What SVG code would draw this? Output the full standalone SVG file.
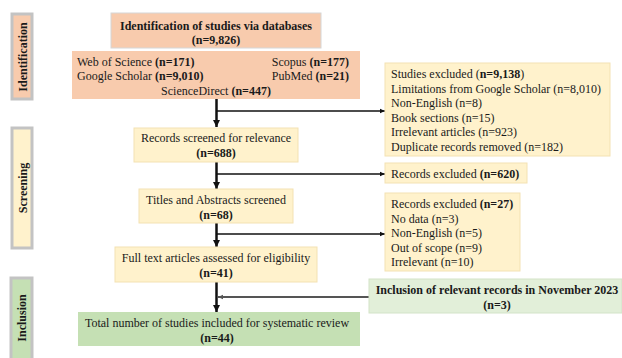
<svg xmlns="http://www.w3.org/2000/svg" width="622" height="358" viewBox="0 0 622 358">
<style>
text{font-family:"Liberation Serif","Times New Roman",serif;font-size:12px;fill:#1a1a1a}
.b{font-weight:bold}
.c{text-anchor:middle}
.peach{fill:#f8cbad}
.yel{fill:#fff2cc;stroke:#f3e2b3;stroke-width:1}
.grn{fill:#c5e0b4}
.lgrn{fill:#e2efd9;stroke:#d3e3c8;stroke-width:1}
.side{stroke:#c3c3c3;stroke-width:3}
.v{stroke:#111;stroke-width:2.5;fill:none}
.h{stroke:#111;stroke-width:1.3;fill:none}
</style>
<defs>
<marker id="av" markerUnits="userSpaceOnUse" markerWidth="8" markerHeight="8" refX="7" refY="4" orient="auto"><path d="M0,0.5 L7,4 L0,7.5 Z" fill="#111"/></marker>
<marker id="ah" markerUnits="userSpaceOnUse" markerWidth="6" markerHeight="6" refX="5" refY="3" orient="auto"><path d="M0,0.8 L5,3 L0,5.2 Z" fill="#111"/></marker>
<marker id="ag" markerUnits="userSpaceOnUse" markerWidth="6" markerHeight="6" refX="5" refY="3" orient="auto"><path d="M0,0.8 L5,3 L0,5.2 Z" fill="#555"/></marker>
</defs>

<g id="side-identification">
<rect class="side" x="12" y="14" width="20" height="85" fill="#f8cbad"/>
<text class="b c" transform="translate(26.5,57) rotate(-90)">Identification</text>
</g>
<g id="side-screening">
<rect class="side" x="12" y="128" width="20" height="120" fill="#fff2cc"/>
<text class="b c" transform="translate(26.5,188) rotate(-90)">Screening</text>
</g>
<g id="side-inclusion">
<rect class="side" x="11" y="278" width="21" height="84" fill="#c5e0b4"/>
<text class="b c" transform="translate(26,318) rotate(-90)">Inclusion</text>
</g>

<g id="connectors">
<line class="v" x1="216.5" y1="99" x2="216.5" y2="127" marker-end="url(#av)"/>
<line class="h" x1="216.5" y1="111" x2="385" y2="111" marker-end="url(#ah)"/>
<line class="v" x1="216.5" y1="162" x2="216.5" y2="189" marker-end="url(#av)"/>
<line class="h" x1="216.5" y1="174" x2="385" y2="174" marker-end="url(#ah)"/>
<line class="v" x1="216.5" y1="223" x2="216.5" y2="247" marker-end="url(#av)"/>
<line class="h" x1="216.5" y1="234" x2="385" y2="234" marker-end="url(#ah)"/>
<line class="v" x1="216.5" y1="282" x2="216.5" y2="312" marker-end="url(#av)"/>
<line x1="369" y1="297" x2="218" y2="297" stroke="#555" stroke-width="2" marker-end="url(#ag)"/>
</g>

<g id="n-identification">
<rect class="peach" x="111" y="13" width="210" height="35" stroke="#d6d6d6" stroke-width="1"/>
<text class="b c" x="216" y="30">Identification of studies via databases</text>
<text class="b c" x="216" y="44">(n=9,826)</text>
</g>
<g id="n-databases">
<rect class="peach" x="72" y="51" width="288" height="48"/>
<text x="77" y="66">Web of Science <tspan class="b">(n=171)</tspan></text>
<text x="77" y="80">Google Scholar <tspan class="b">(n=9,010)</tspan></text>
<text x="349" y="66" text-anchor="end">Scopus <tspan class="b">(n=177)</tspan></text>
<text x="349" y="80" text-anchor="end">PubMed <tspan class="b">(n=21)</tspan></text>
<text class="c" x="216" y="95">ScienceDirect <tspan class="b">(n=447)</tspan></text>
</g>
<g id="n-excluded1">
<rect class="yel" x="385" y="63" width="225" height="93"/>
<text x="391" y="78">Studies excluded (<tspan class="b">n=9,138</tspan>)</text>
<text x="391" y="92.5" textLength="210" lengthAdjust="spacingAndGlyphs">Limitations from Google Scholar (n=8,010)</text>
<text x="391" y="107">Non-English (n=8)</text>
<text x="391" y="121.5">Book sections (n=15)</text>
<text x="391" y="136">Irrelevant articles (n=923)</text>
<text x="391" y="150.5" textLength="172" lengthAdjust="spacingAndGlyphs">Duplicate records removed (n=182)</text>
</g>
<g id="n-screened">
<rect class="yel" x="134" y="128" width="164" height="34"/>
<text class="c" x="216" y="142">Records screened for relevance</text>
<text class="b c" x="216" y="157">(n=688)</text>
</g>
<g id="n-excluded2">
<rect class="yel" x="385" y="163" width="142" height="20"/>
<text x="391" y="177.5">Records excluded <tspan class="b">(n=620)</tspan></text>
</g>
<g id="n-titles">
<rect class="yel" x="139" y="189" width="154" height="34"/>
<text class="c" x="216" y="204">Titles and Abstracts screened</text>
<text class="b c" x="216" y="218.5">(n=68)</text>
</g>
<g id="n-excluded3">
<rect class="yel" x="385" y="193" width="135" height="78"/>
<text x="391" y="208">Records excluded <tspan class="b">(n=27)</tspan></text>
<text x="391" y="222.5">No data (n=3)</text>
<text x="391" y="237">Non-English (n=5)</text>
<text x="391" y="251.5">Out of scope (n=9)</text>
<text x="391" y="266">Irrelevant (n=10)</text>
</g>
<g id="n-fulltext">
<rect class="yel" x="115" y="247" width="202" height="35"/>
<text class="c" x="216" y="262">Full text articles assessed for eligibility</text>
<text class="b c" x="216" y="277">(n=41)</text>
</g>
<g id="n-november">
<rect class="lgrn" x="369" y="279" width="253" height="34"/>
<text class="b c" x="497" y="294">Inclusion of relevant records in November 2023</text>
<text class="b c" x="497" y="309">(n=3)</text>
</g>
<g id="n-total">
<rect class="grn" x="78" y="312" width="282" height="34"/>
<text class="c" x="217" y="327">Total number of studies included for systematic review</text>
<text class="b c" x="217" y="342">(n=44)</text>
</g>
</svg>
